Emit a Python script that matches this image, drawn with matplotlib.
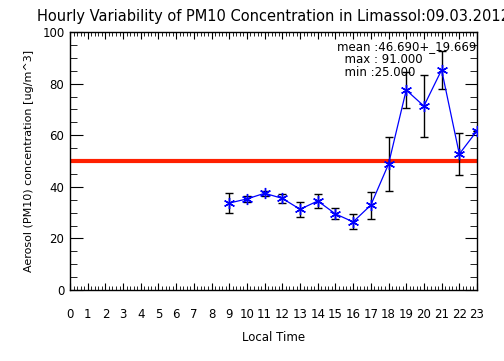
import matplotlib
matplotlib.use('Agg')
import matplotlib.pyplot as plt
from matplotlib.ticker import MultipleLocator
import numpy as np

# hourly PM10 means and standard deviations, Limassol 09.03.2012
hours = [9, 10, 11, 12, 13, 14, 15, 16, 17, 18, 19, 20, 21, 22, 23]
pm10 = [33.7, 35.3, 37.5, 35.5, 31.3, 34.5, 29.5, 26.4, 32.9, 48.8, 77.5, 71.3, 85.3, 52.7, 61.7]
pm10_err = [4.0, 1.2, 1.0, 1.9, 2.9, 2.8, 2.1, 2.9, 5.2, 10.5, 7.0, 12.0, 7.4, 8.0, 0.0]
hour_labels = [str(h) for h in range(24)]
limit = 50
stats = ['mean :46.690+_19.669', '  max : 91.000', '  min :25.000']

fig = plt.figure(figsize=(5.04, 3.61), dpi=100)
ax = fig.add_axes([70/504, 1 - 290/361, 407/504, 258/361])

ax.axhline(limit, color='#ff2000', lw=3, zorder=2)
ax.errorbar(hours, pm10, yerr=pm10_err, fmt='none', ecolor='k', elinewidth=1,
            capsize=3, capthick=1, zorder=3)
ax.plot(hours, pm10, color='#0000ff', lw=0.9, marker=(6, 2, 0), ms=8,
        mec='#0000ff', mew=1, zorder=4, clip_on=True)

ax.set_xlim(0, 23)
ax.set_ylim(0, 100)
ax.set_xticks(range(24))
ax.set_xticklabels(hour_labels)
ax.xaxis.set_minor_locator(MultipleLocator(0.2))
ax.yaxis.set_major_locator(MultipleLocator(20))
ax.yaxis.set_minor_locator(MultipleLocator(5))
ax.tick_params(which='both', direction='in', top=True, right=True, colors='k',
               labelsize=8.5)
ax.tick_params(axis='x', which='major', length=5, pad=13)
ax.tick_params(axis='x', which='minor', length=3)
ax.tick_params(axis='y', which='major', length=9, pad=4)
ax.tick_params(axis='y', which='minor', length=5)
for s in ax.spines.values():
    s.set_linewidth(1)

ax.set_xlabel('Local Time', fontsize=8.5, labelpad=7)
ax.set_ylabel('Aerosol (PM10) concentration [ug/m^3]', fontsize=8, labelpad=6)

for i, line in enumerate(stats):
    ax.text(15.1, 94.2 - i * 4.9, line, fontsize=8.5, ha='left', va='center')

fig.text(37/504, 1 - 17/361, 'Hourly Variability of PM10 Concentration in Limassol:09.03.2012',
         fontsize=10.5, ha='left', va='center')

fig.savefig('out.png', dpi=100)
